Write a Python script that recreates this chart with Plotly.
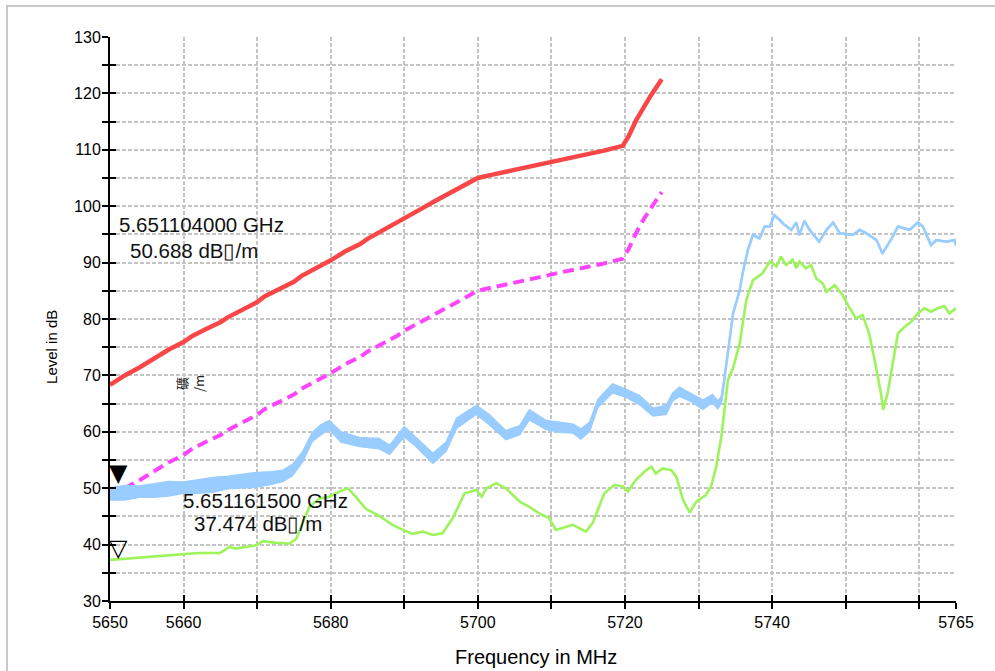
import plotly.graph_objects as go

# ---- limit lines (MHz, dB) ----
limit_freq = [5650, 5652, 5654, 5655.5, 5656.5, 5658, 5660, 5661.2, 5663, 5665, 5666, 5668,
              5670, 5671, 5673, 5675, 5676, 5678, 5680, 5682, 5684, 5685, 5687, 5689, 5690,
              5692, 5694, 5696, 5698, 5700, 5702, 5705, 5708, 5711, 5714, 5717, 5719.7,
              5720.5, 5721.5, 5722.5, 5723.5, 5725]
limit_peak = [68.3, 70.0, 71.4, 72.6, 73.6, 74.6, 75.9, 77.0, 78.2, 79.4, 80.3, 81.6,
              83.0, 84.0, 85.3, 86.6, 87.6, 88.9, 90.4, 92.0, 93.3, 94.2, 95.6, 97.0, 97.9,
              99.3, 100.8, 102.2, 103.6, 105.0, 105.6, 106.4, 107.3, 108.2, 109.0, 109.8, 110.7,
              112.4, 115.2, 117.6, 119.6, 122.5]
limit_avg = [48.3, 50.0, 51.4, 52.6, 53.6, 54.6, 55.9, 57.0, 58.2, 59.4, 60.3, 61.6,
             63.0, 64.0, 65.3, 66.6, 67.6, 68.9, 70.4, 72.0, 73.3, 74.2, 75.6, 77.0, 77.9,
             79.3, 80.8, 82.2, 83.6, 85.0, 85.6, 86.4, 87.3, 88.2, 89.0, 89.8, 90.7,
             92.4, 95.2, 97.6, 99.6, 102.5]

# ---- peak detector trace ----
peak_freq = [5650, 5652, 5654, 5656, 5658, 5660, 5662, 5664, 5666, 5668,
             5670, 5672, 5673.5, 5674.8, 5676.2, 5677.5, 5678.6, 5679.8, 5681.4, 5683.9,
             5686.6, 5688.0, 5690.0, 5691.6, 5693.9, 5695.7, 5697.1, 5699.8, 5701.6, 5703.8,
             5705.7, 5707.0, 5709.3, 5711.1, 5712.9, 5714.0, 5715.2, 5716.3, 5718.3, 5720.2,
             5722.0, 5723.8, 5725.6, 5726.5, 5727.4, 5728.8, 5730.6, 5731.9, 5732.6, 5733.1,
             5733.5, 5734.2, 5734.7, 5735.6, 5736.0, 5736.7, 5737.4, 5738.3, 5739.0, 5739.7,
             5740.3, 5741.0, 5741.7, 5742.6, 5743.3, 5743.7, 5744.4, 5745.1, 5746.4, 5747.4,
             5748.3, 5749.2, 5751.0, 5751.9, 5752.8, 5754.2, 5755.0, 5756.4, 5757.1, 5758.7,
             5759.8, 5760.5, 5761.6, 5762.3, 5763.7, 5764.8, 5765]
peak_level = [49.0, 49.2, 49.4, 49.6, 49.9, 50.1, 50.3, 50.6, 51.0, 51.3,
              51.5, 51.8, 52.2, 53.2, 55.6, 59.1, 60.3, 61.2, 59.1, 58.2,
              57.9, 56.8, 60.0, 58.2, 55.3, 57.4, 61.5, 63.9, 62.1, 59.4,
              60.3, 63.0, 61.2, 60.8, 60.6, 59.6, 60.9, 65.0, 67.7, 66.8,
              65.6, 63.5, 63.9, 66.2, 67.1, 66.2, 64.8, 65.9, 64.8, 65.6,
              69.2, 76.3, 81.0, 85.1, 88.1, 92.2, 94.9, 94.3, 96.4, 96.4,
              98.4, 97.6, 96.7, 95.8, 97.1, 94.9, 97.4, 95.8, 93.7, 95.8,
              97.1, 95.2, 94.9, 95.8, 95.2, 94.0, 91.6, 94.6, 96.4, 95.8,
              97.1, 96.4, 93.1, 94.0, 93.7, 94.0, 93.1]
# half-width of the noise band around the peak trace (dB)
peak_spread = [1.1, 1.3, 1.0, 1.2, 1.3, 1.0, 1.2, 1.3, 1.1, 1.2,
               1.3, 1.1, 1.0, 1.0, 0.9, 0.8, 0.9, 0.8, 0.9, 0.8,
               0.9, 0.8, 0.9, 0.8, 0.9, 0.8, 0.9, 0.8, 0.9, 0.8,
               0.8, 0.9, 0.8, 0.9, 0.8, 0.9, 0.8, 0.7, 0.8, 0.7,
               0.8, 0.7, 0.8, 0.7, 0.8, 0.7, 0.8, 0.7, 0.7, 0.6,
               0.3, 0.1, 0.1, 0.1, 0.1, 0.1, 0.1, 0.1, 0.1, 0.1,
               0.1, 0.1, 0.1, 0.1, 0.1, 0.1, 0.1, 0.1, 0.1, 0.1,
               0.1, 0.1, 0.1, 0.1, 0.1, 0.1, 0.1, 0.1, 0.1, 0.1,
               0.1, 0.1, 0.1, 0.1, 0.1, 0.1, 0.1]

# ---- average detector trace ----
avg_freq = [5650, 5653, 5656.3, 5659.9, 5662.1, 5664.9, 5665.6, 5666.2, 5667.1, 5669.9,
            5670.8, 5672.6, 5674.4, 5675.3, 5676.2, 5677.1, 5678.5, 5679.8, 5681.2, 5682.3,
            5683.4, 5684.8, 5686.6, 5688.4, 5690.2, 5691.1, 5692.5, 5693.9, 5695.2, 5696.6,
            5698.2, 5699.8, 5700.5, 5701.2, 5702.5, 5703.8, 5705.7, 5707.0, 5708.4, 5709.7,
            5710.6, 5712.9, 5714.7, 5715.6, 5717.2, 5718.6, 5719.7, 5720.4, 5721.5, 5722.9,
            5723.6, 5724.2, 5725.1, 5726.3, 5727.0, 5727.9, 5728.8, 5729.7, 5731.0, 5731.7,
            5732.4, 5733.1, 5734.0, 5734.7, 5735.6, 5736.5, 5737.4, 5738.7, 5739.7, 5740.6,
            5741.2, 5741.9, 5742.8, 5743.3, 5743.7, 5744.6, 5745.3, 5746.0, 5746.9, 5747.4,
            5748.5, 5749.6, 5750.3, 5751.4, 5752.3, 5753.2, 5754.2, 5754.8, 5755.1, 5755.7,
            5756.4, 5757.1, 5758.0, 5758.9, 5759.8, 5760.7, 5761.6, 5762.5, 5763.4, 5764.1,
            5765]
avg_level = [37.3, 37.6, 37.9, 38.2, 38.5, 38.5, 39.0, 39.6, 39.3, 39.9,
             40.6, 40.3, 40.2, 41.0, 44.0, 46.7, 48.2, 48.5, 49.4, 50.0,
             48.5, 46.3, 45.1, 43.5, 42.4, 41.9, 42.3, 41.7, 42.0, 44.7,
             49.1, 49.7, 48.5, 50.0, 50.9, 50.0, 47.6, 46.7, 45.5, 44.7,
             42.6, 43.5, 42.3, 43.8, 49.1, 50.6, 50.3, 49.4, 51.5, 53.2,
             53.8, 52.6, 53.5, 53.2, 52.0, 47.9, 45.7, 47.6, 48.8, 50.3,
             53.8, 59.1, 69.2, 71.3, 75.7, 83.4, 86.9, 88.1, 90.2, 89.3,
             91.1, 89.6, 90.5, 89.0, 90.2, 89.0, 89.6, 87.2, 86.3, 84.8,
             86.0, 84.2, 82.5, 80.1, 80.7, 77.4, 71.0, 66.8, 63.9, 66.8,
             72.1, 77.4, 78.6, 79.5, 81.0, 81.9, 81.3, 81.9, 82.3, 81.0,
             81.9]

# ---- markers ----
marker_freq = [5651.104, 5651.1615]
marker_level = [50.688, 37.474]
marker_symbol = ["▼", "▽"]
marker_line1 = ["5.651104000 GHz", "5.651161500 GHz"]
marker_line2 = ["50.688 dB\u25af/m", "37.474 dB\u25af/m"]
# readout text anchors (MHz, dB) for the two text lines of each marker
readout1_pos = [(5651.0, 96.7), (5659.65, 47.8)]
readout2_pos = [(5652.5, 92.2), (5661.15, 43.7)]

# ---- axes ----
x_tick_vals = [5650, 5660, 5670, 5680, 5690, 5700, 5710, 5720, 5730, 5740, 5750, 5760, 5765]
x_tick_text = ["5650", "5660", "", "5680", "", "5700", "", "5720", "", "5740", "", "", "5765"]
y_tick_vals = list(range(30, 131, 5))
y_tick_text = [str(v) if v % 10 == 0 else "" for v in y_tick_vals]
x_range = [5650, 5765]
y_range = [30, 130]

unit_label = b"\xb5V".decode("gbk", errors="replace") + "<br>/m"

FONT = "Liberation Sans, Arial, sans-serif"
RED = "#fa4646"
MAGENTA = "#ff44ff"
BLUE = "#99ccff"
GREEN = "#9cf35a"
GRID = "#c4c4c4"

fig = go.Figure()

fig.add_trace(go.Scatter(x=limit_freq, y=limit_peak, mode="lines",
                         line=dict(color=RED, width=4.5), hoverinfo="skip"))
fig.add_trace(go.Scatter(x=limit_freq, y=limit_avg, mode="lines",
                         line=dict(color=MAGENTA, width=4, dash="11px,6px"), hoverinfo="skip"))
fig.add_trace(go.Scatter(x=avg_freq, y=avg_level, mode="lines",
                         line=dict(color=GREEN, width=2.6), hoverinfo="skip"))

# noise band of the peak trace
upper = [l + s for l, s in zip(peak_level, peak_spread)]
lower = [l - s for l, s in zip(peak_level, peak_spread)]
fig.add_trace(go.Scatter(x=peak_freq + peak_freq[::-1], y=upper + lower[::-1],
                         mode="lines", fill="toself", fillcolor=BLUE,
                         line=dict(color=BLUE, width=1.5), hoverinfo="skip"))
fig.add_trace(go.Scatter(x=peak_freq, y=peak_level, mode="lines",
                         line=dict(color=BLUE, width=2.6), hoverinfo="skip"))

# helper trace so the inner-tick axes get drawn
fig.add_trace(go.Scatter(x=[x_range[0]], y=[y_range[0]], xaxis="x2", yaxis="y2",
                         mode="markers", marker=dict(opacity=0), hoverinfo="skip"))

annotations = []
for f, lv, sym in zip(marker_freq, marker_level, marker_symbol):
    annotations.append(dict(x=f, y=lv, xref="x", yref="y", text=sym, showarrow=False,
                            xanchor="center", yanchor="bottom", yshift=-5,
                            font=dict(family="DejaVu Sans", size=24, color="black")))
for (p1, p2, t1, t2) in zip(readout1_pos, readout2_pos, marker_line1, marker_line2):
    annotations.append(dict(x=p1[0], y=p1[1], xref="x", yref="y", text=t1, showarrow=False,
                            xanchor="left", yanchor="middle",
                            font=dict(family=FONT, size=20.5, color="#111111")))
    annotations.append(dict(x=p2[0], y=p2[1], xref="x", yref="y", text=t2, showarrow=False,
                            xanchor="left", yanchor="middle",
                            font=dict(family=FONT, size=20.5, color="#111111")))

annotations.append(dict(x=5660.9, y=68.5, xref="x", yref="y", text=unit_label, showarrow=False,
                        textangle=-90, xanchor="center", yanchor="middle",
                        font=dict(family="Noto Sans CJK SC", size=13, color="#222222")))
annotations.append(dict(x=-0.0686, y=0.4504, xref="paper", yref="paper", text="Level in dB",
                        showarrow=False, textangle=-90, xanchor="center", yanchor="middle",
                        font=dict(family=FONT, size=15, color="black")))
annotations.append(dict(x=0.5035, y=-0.0993, xref="paper", yref="paper", text="Frequency in MHz",
                        showarrow=False, xanchor="center", yanchor="middle",
                        font=dict(family=FONT, size=20, color="black")))

common_x = dict(range=x_range, tickvals=x_tick_vals, zeroline=False, fixedrange=True)
common_y = dict(range=y_range, tickvals=y_tick_vals, zeroline=False, fixedrange=True)

fig.update_layout(
    width=995, height=671,
    margin=dict(l=110, r=39, t=37, b=70),
    paper_bgcolor="white", plot_bgcolor="white",
    showlegend=False,
    font=dict(family=FONT, size=16, color="black"),
    xaxis=dict(**common_x, ticktext=x_tick_text, ticks="outside", ticklen=6, tickwidth=2,
               tickcolor="black", showline=True, linecolor="black", linewidth=2,
               showgrid=True, gridcolor=GRID, gridwidth=1.5, griddash="4px,2px",
               tickfont=dict(size=16, color="black")),
    yaxis=dict(**common_y, ticktext=y_tick_text, ticks="outside", ticklen=6, tickwidth=2,
               tickcolor="black", showline=True, linecolor="black", linewidth=2,
               showgrid=True, gridcolor=GRID, gridwidth=1.5, griddash="4px,2px",
               tickfont=dict(size=16, color="black"), ticklabelstandoff=-2),
    xaxis2=dict(**common_x, overlaying="x", anchor="y2", side="bottom", ticks="inside",
                ticklen=6, tickwidth=2, tickcolor="black", showticklabels=False,
                showgrid=False, showline=False),
    yaxis2=dict(**common_y, overlaying="y", anchor="x2", side="left", ticks="inside",
                ticklen=6, tickwidth=2, tickcolor="black", showticklabels=False,
                showgrid=False, showline=False),
    annotations=annotations,
    shapes=[dict(type="rect", xref="paper", yref="paper",
                 x0=-0.1217, x1=1.06, y0=-0.15, y1=1.055,
                 line=dict(color="#c8c8c8", width=2), fillcolor="rgba(0,0,0,0)")],
)

fig.write_html("out.html")
